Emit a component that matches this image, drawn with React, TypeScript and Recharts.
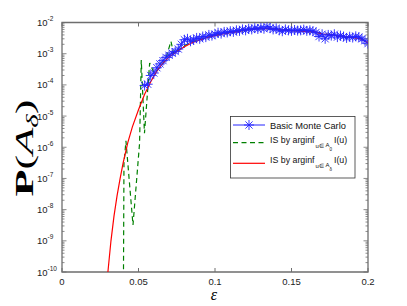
import { LineChart, Line, XAxis, YAxis, ReferenceArea } from "recharts";

const CHART_W = 407;
const CHART_H = 306;
const PLOT_TOP = 22.5;
const PLOT_RIGHT = 368;
const FRAME = "#6e6e6e";
const BLUE = "#2424ff";
const SANS = "'Liberation Sans', Arial, Helvetica, sans-serif";
const SERIF = "'Liberation Serif', 'DejaVu Serif', 'Times New Roman', serif";

const X_TICKS = [0, 0.05, 0.1, 0.15, 0.2];
const Y_DECADES = [-10, -9, -8, -7, -6, -5, -4, -3, -2];

// Basic Monte Carlo (blue, star markers)
const BLUE_EPS = [
  0.054, 0.056, 0.058, 0.06, 0.062, 0.064, 0.066, 0.068, 0.07, 0.072, 0.074, 0.076, 0.078, 0.08,
  0.082, 0.084, 0.086, 0.088, 0.09, 0.092, 0.094, 0.096, 0.098, 0.1, 0.102, 0.104, 0.106, 0.108,
  0.11, 0.112, 0.114, 0.116, 0.118, 0.12, 0.122, 0.124, 0.126, 0.128, 0.13, 0.132, 0.134, 0.136,
  0.138, 0.14, 0.142, 0.144, 0.146, 0.148, 0.15, 0.152, 0.154, 0.156, 0.158, 0.16, 0.162, 0.164,
  0.166, 0.168, 0.17, 0.172, 0.174, 0.176, 0.178, 0.18, 0.182, 0.184, 0.186, 0.188, 0.19, 0.192,
  0.194, 0.196, 0.198, 0.2,
];
const BLUE_P = [
  9.5e-5, 1.05e-4, 2.0e-4, 2.4e-4, 3.55e-4, 4.7e-4, 6.0e-4, 7.6e-4, 8.9e-4, 1.05e-3, 1.17e-3,
  1.41e-3, 2.0e-3, 2.8e-3, 3.0e-3, 2.5e-3, 2.8e-3, 3.2e-3, 3.0e-3, 3.55e-3, 3.4e-3, 4.0e-3,
  3.8e-3, 4.2e-3, 4.7e-3, 4.4e-3, 5.0e-3, 4.8e-3, 5.25e-3, 5.0e-3, 5.6e-3, 5.4e-3, 6.0e-3,
  5.6e-3, 6.3e-3, 6.0e-3, 6.6e-3, 6.2e-3, 6.8e-3, 6.3e-3, 7.4e-3, 6.6e-3, 6.0e-3, 6.5e-3,
  5.6e-3, 5.25e-3, 6.0e-3, 5.6e-3, 5.4e-3, 5.75e-3, 5.5e-3, 5.6e-3, 5.9e-3, 5.4e-3, 5.6e-3,
  5.25e-3, 4.8e-3, 3.55e-3, 4.2e-3, 3.0e-3, 4.0e-3, 3.8e-3, 4.2e-3, 3.4e-3, 3.8e-3, 3.55e-3,
  3.2e-3, 3.5e-3, 3.3e-3, 3.6e-3, 3.4e-3, 3.0e-3, 2.6e-3, 2.1e-3,
];

// IS by arginf over A_0 (green dashed)
const GREEN_EPS = [
  0.0401, 0.0405, 0.0418, 0.0464, 0.0507, 0.0512, 0.0518, 0.0539, 0.0573, 0.06, 0.0625, 0.065,
  0.0675, 0.0712, 0.073, 0.076, 0.08, 0.085, 0.09, 0.095, 0.1, 0.105, 0.11, 0.115, 0.12, 0.125,
  0.13, 0.135, 0.14, 0.145, 0.15, 0.155, 0.16, 0.165, 0.17, 0.175, 0.18, 0.185, 0.19, 0.195, 0.2,
];
const GREEN_P = [
  1e-11, 3.0e-7, 1.6e-6, 3.2e-9, 1.35e-6, 2.0e-5, 6.3e-4, 2.8e-6, 5.0e-4, 2.5e-4, 3.0e-4, 4.5e-4,
  6.0e-4, 2.5e-3, 1.0e-3, 1.3e-3, 1.8e-3, 2.4e-3, 2.8e-3, 3.4e-3, 3.9e-3, 4.3e-3, 4.8e-3, 5.2e-3,
  5.6e-3, 6.1e-3, 6.4e-3, 6.3e-3, 6.1e-3, 5.8e-3, 5.6e-3, 5.3e-3, 5.2e-3, 4.9e-3, 4.4e-3, 4.1e-3,
  3.8e-3, 3.4e-3, 3.3e-3, 3.1e-3, 2.3e-3,
];

// IS by arginf over A_delta (red)
const RED_EPS = [
  0.0295, 0.03, 0.032, 0.034, 0.036, 0.038, 0.04, 0.043, 0.046, 0.05, 0.054, 0.058, 0.062, 0.066,
  0.07, 0.075, 0.08, 0.085, 0.09, 0.095, 0.1, 0.105, 0.11, 0.115, 0.12, 0.125, 0.13, 0.135, 0.14,
  0.145, 0.15, 0.155, 0.16, 0.165, 0.17, 0.175, 0.18, 0.185, 0.19, 0.195, 0.2,
];
const RED_P = [
  5e-11, 1e-10, 1e-9, 6.3e-9, 2.8e-8, 1e-7, 3.2e-7, 1.4e-6, 4.5e-6, 1.6e-5, 5e-5, 1.26e-4, 2.8e-4,
  5e-4, 7.9e-4, 1.17e-3, 1.66e-3, 2.24e-3, 2.75e-3, 3.3e-3, 3.8e-3, 4.27e-3, 4.7e-3, 5.1e-3,
  5.75e-3, 6.2e-3, 6.3e-3, 6.45e-3, 6.0e-3, 5.75e-3, 5.5e-3, 5.4e-3, 5.1e-3, 5.0e-3, 4.27e-3,
  4.2e-3, 3.7e-3, 3.5e-3, 3.3e-3, 3.0e-3, 2.24e-3,
];

const toRows = (xs: number[], ys: number[]) => xs.map((eps, i) => ({ eps, p: ys[i] }));
const blueRows = toRows(BLUE_EPS, BLUE_P);
const greenRows = toRows(GREEN_EPS, GREEN_P);
const redRows = toRows(RED_EPS, RED_P);

// decades plus the 2..9 minor ticks between them
const yTicks: number[] = [];
Y_DECADES.forEach((k) => {
  if (k === -2) {
    yTicks.push(Number(`1e${k}`));
    return;
  }
  for (let m = 1; m <= 9; m++) yTicks.push(Number(`${m}e${k}`));
});

function Star({ cx, cy, r = 5, color = BLUE }: any) {
  if (cx == null || cy == null) return null;
  const d = r * 0.72;
  return (
    <g stroke={color} strokeWidth={0.9}>
      <line x1={cx - r} y1={cy} x2={cx + r} y2={cy} />
      <line x1={cx} y1={cy - r} x2={cx} y2={cy + r} />
      <line x1={cx - d} y1={cy - d} x2={cx + d} y2={cy + d} />
      <line x1={cx - d} y1={cy + d} x2={cx + d} y2={cy - d} />
    </g>
  );
}

function XTick({ x, y, payload }: any) {
  return (
    <g>
      <line x1={x} x2={x} y1={y} y2={y - 4} stroke={FRAME} />
      <line x1={x} x2={x} y1={PLOT_TOP} y2={PLOT_TOP + 4} stroke={FRAME} />
      <text x={x} y={y + 12.5} textAnchor="middle" fontSize={9.5} fontFamily={SANS} fill="#222">
        {payload.value}
      </text>
    </g>
  );
}

function YTick({ x, y, payload }: any) {
  const v = payload.value;
  const exp = Math.round(Math.log10(v));
  const major = Math.abs(v / Math.pow(10, exp) - 1) < 1e-6;
  const len = major ? 4.5 : 2.5;
  return (
    <g>
      <line x1={x} x2={x + len} y1={y} y2={y} stroke={FRAME} strokeWidth={0.8} />
      <line x1={PLOT_RIGHT} x2={PLOT_RIGHT - len} y1={y} y2={y} stroke={FRAME} strokeWidth={0.8} />
      {major && (
        <text x={37} y={y + 3.5} fontSize={9.5} fontFamily={SANS} fill="#222">
          10
          <tspan dy={-5} fontSize={6.5}>
            {String(exp)}
          </tspan>
        </text>
      )}
    </g>
  );
}

function Overlay() {
  const main = 8.8;
  const sub = 6;
  const subsub = 4.5;
  return (
    <svg
      width={CHART_W}
      height={CHART_H}
      style={{ position: "absolute", left: 0, top: 0, pointerEvents: "none" }}
    >
      {/* y label */}
      <text
        transform="translate(33,148) rotate(-90) scale(1.7,1)"
        textAnchor="middle"
        fontFamily={SERIF}
        fontSize={26}
        fill="#000"
      >
        <tspan fontWeight="bold">P</tspan>(<tspan fontStyle="italic">A</tspan>
        <tspan fontStyle="italic" fontSize={17} dy={5}>
          δ
        </tspan>
        <tspan dy={-5}>)</tspan>
      </text>
      {/* x label */}
      <text x={214} y={300} textAnchor="middle" fontFamily={SERIF} fontStyle="italic" fontSize={16}>
        ε
      </text>

      {/* legend */}
      <rect x={230.5} y={116.5} width={124.5} height={61.5} fill="#fff" stroke="#333" strokeWidth={0.8} />
      <line x1={233} x2={265} y1={125} y2={125} stroke={BLUE} strokeWidth={1} />
      <Star cx={249} cy={125} />
      <text x={270} y={128.7} fontSize={9.3} fontFamily={SANS} fill="#111">
        Basic Monte Carlo
      </text>

      <line x1={233} x2={265} y1={142.7} y2={142.7} stroke="#008000" strokeWidth={1.2} strokeDasharray="5 3.5" />
      <text x={270} y={142.7} fontSize={main} fontFamily={SANS} fill="#111">
        IS by arginf
        <tspan x={315.5} y={147.7} fontSize={sub}>u∈</tspan>
        <tspan x={325.5} y={147.2} fontSize={sub}>A</tspan>
        <tspan x={329.5} y={151} fontSize={subsub}>0</tspan>
        <tspan x={334} y={142.7}>I(u)</tspan>
      </text>

      <line x1={233} x2={265} y1={163.3} y2={163.3} stroke="#ff0000" strokeWidth={1.2} />
      <text x={270} y={162.7} fontSize={main} fontFamily={SANS} fill="#111">
        IS by arginf
        <tspan x={315.5} y={167.7} fontSize={sub}>u∈</tspan>
        <tspan x={325.5} y={167.2} fontSize={sub}>A</tspan>
        <tspan x={329.5} y={171} fontSize={subsub}>δ</tspan>
        <tspan x={334} y={162.7}>I(u)</tspan>
      </text>
    </svg>
  );
}

export default function App() {
  return (
    <div style={{ position: "relative", width: CHART_W, height: CHART_H, background: "#fff" }}>
      <style>{`body{margin:0}`}</style>
      <LineChart
        width={CHART_W}
        height={CHART_H}
        margin={{ top: PLOT_TOP, right: CHART_W - PLOT_RIGHT, bottom: 14, left: 12 }}
      >
        <XAxis
          dataKey="eps"
          type="number"
          domain={[0, 0.2]}
          ticks={X_TICKS}
          interval={0}
          height={20}
          tickSize={0}
          tickMargin={0}
          tickLine={false}
          axisLine={false}
          tick={<XTick />}
          allowDataOverflow
        />
        <YAxis
          dataKey="p"
          type="number"
          scale="log"
          domain={[1e-10, 1e-2]}
          ticks={yTicks}
          interval={0}
          width={50}
          tickSize={0}
          tickMargin={0}
          tickLine={false}
          axisLine={false}
          tick={<YTick />}
          allowDataOverflow
        />
        <ReferenceArea
          x1={0}
          x2={0.2}
          y1={1e-10}
          y2={1e-2}
          fill="none"
          stroke={FRAME}
          strokeWidth={1.3}
          ifOverflow="visible"
        />
        <Line
          data={blueRows}
          dataKey="p"
          stroke={BLUE}
          strokeWidth={1}
          dot={(props: any) => <Star key={`s${props.index}`} cx={props.cx} cy={props.cy} />}
          isAnimationActive={false}
        />
        <Line
          data={greenRows}
          dataKey="p"
          stroke="#008000"
          strokeWidth={1.2}
          strokeDasharray="5 3.5"
          dot={false}
          isAnimationActive={false}
        />
        <Line
          data={redRows}
          dataKey="p"
          stroke="#ff0000"
          strokeWidth={1.2}
          dot={false}
          isAnimationActive={false}
        />
      </LineChart>
      <Overlay />
    </div>
  );
}
